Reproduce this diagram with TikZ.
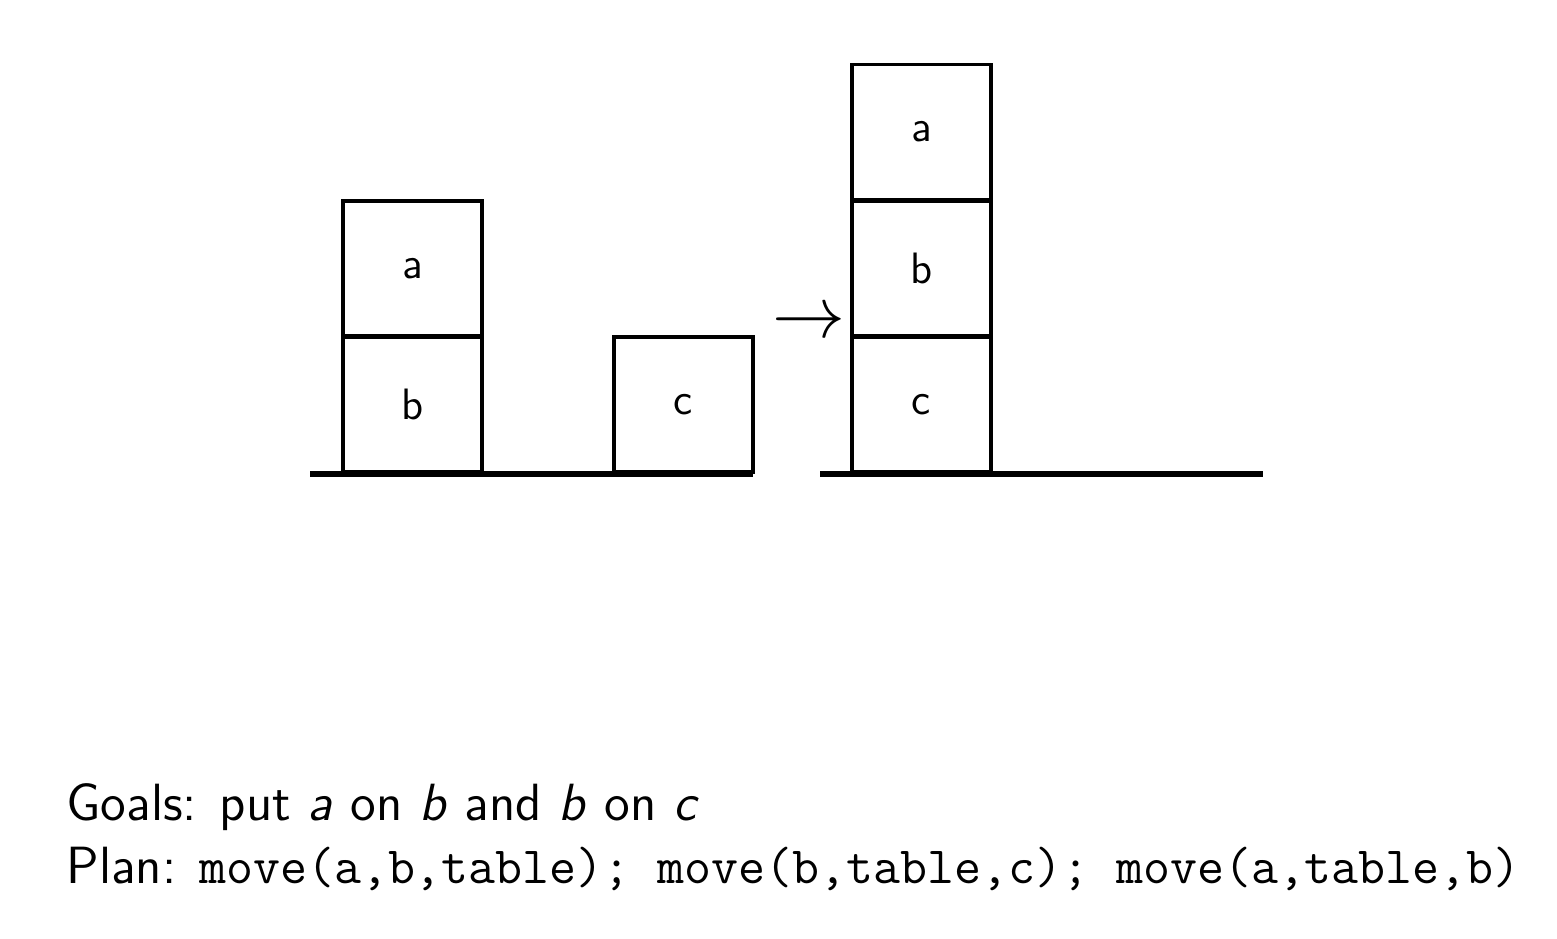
\documentclass[tikz,border=0pt]{standalone}
\usepackage{amsmath,amssymb}
\usepackage{tikz}
\usetikzlibrary{positioning}

\begin{document}
\begin{tikzpicture}[
    font=\sffamily,
    node distance=0pt,
    block/.style={rectangle, draw, line width=1pt, minimum width=1.39cm,
      minimum height=1.35cm, inner sep=0pt, font=\sffamily\fontsize{12.5}{15}\selectfont},
    ground/.style={line width=1.5pt},
    goaltext/.style={anchor=base west, inner sep=0pt, font=\sffamily\fontsize{14.9}{18}\selectfont}
  ]
  \useasboundingbox (0,0) rectangle (15.57,9.38);

  %% Start state
  \coordinate (l1) at (3.10,4.64);
  \coordinate (l2) at (7.53,4.64);
  \draw[ground] (l1) -- (l2);
  \node[block, anchor=south] (b) at (4.125,4.64) {b};
  \node[block, above=-0.6pt of b] (a) {a};
  \node[block, anchor=south] (c) at (6.835,4.64) {c};

  %% Arrow
  \node[font=\fontsize{19.5}{22}\selectfont, inner sep=0pt] (to) at (8.09,6.14) {$\rightarrow$};

  %% Goal state
  \coordinate (r1) at (8.20,4.64);
  \coordinate (r2) at (12.63,4.64);
  \draw[ground] (r1) -- (r2);
  \node[block, anchor=south] (c2) at (9.215,4.64) {c};
  \node[block, above=-0.6pt of c2] (b2) {b};
  \node[block, above=-0.6pt of b2] (a2) {a};

  %% Goals and plan
  \node[goaltext] (goals) at (0.66,1.18) {Goals: put \textit{a} on \textit{b} and \textit{b} on \textit{c}};
  \node[goaltext] (plan) at (0.66,0.55) {Plan: \texttt{move(a,b,table); move(b,table,c); move(a,table,b)}};

\end{tikzpicture}
\end{document}
